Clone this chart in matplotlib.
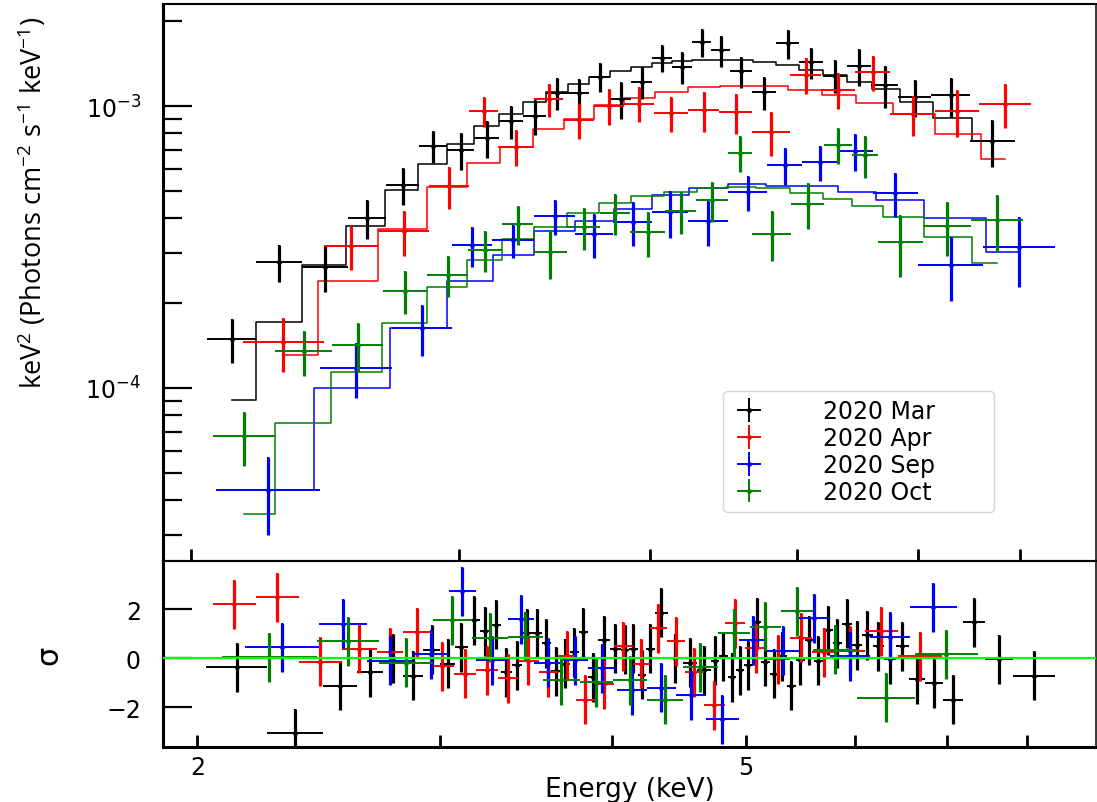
import numpy as np
import matplotlib
matplotlib.use("Agg")
import matplotlib.pyplot as plt
from matplotlib.ticker import FixedLocator, NullFormatter, NullLocator, FixedFormatter, LogLocator

plt.rcParams['mathtext.default'] = 'regular'

# ---------------- Top panel: unfolded spectra (bin edges in keV) ----------------
mar_edges = [2.049, 2.206, 2.365, 2.536, 2.685, 2.823, 2.945, 3.068, 3.185, 3.303, 3.420,
             3.535, 3.649, 3.767, 3.889, 4.014, 4.137, 4.264, 4.388, 4.516, 4.668, 4.841,
             5.012, 5.197, 5.389, 5.588, 5.820, 6.118, 6.489, 6.945]
mar_flux = [1.49e-4, 2.80e-4, 2.69e-4, 4.01e-4, 5.25e-4, 7.21e-4, 6.98e-4, 7.70e-4, 8.85e-4,
            9.22e-4, 1.11e-3, 1.11e-3, 1.27e-3, 1.06e-3, 1.22e-3, 1.48e-3, 1.38e-3, 1.69e-3,
            1.58e-3, 1.33e-3, 1.12e-3, 1.67e-3, 1.43e-3, 1.28e-3, 1.39e-3, 1.19e-3, 1.08e-3,
            1.09e-3, 7.51e-4]
mar_err = [2.65e-5, 4.2e-5, 5.0e-5, 6.2e-5, 7.9e-5, 9.4e-5, 1.05e-4, 1.16e-4, 1.19e-4, 1.31e-4,
           1.44e-4, 1.40e-4, 1.52e-4, 1.59e-4, 1.59e-4, 1.63e-4, 1.79e-4, 1.93e-4, 1.99e-4,
           1.68e-4, 1.50e-4, 1.97e-4, 1.80e-4, 1.72e-4, 2.09e-4, 2.02e-4, 1.62e-4, 1.72e-4, 1.43e-4]
mar_model = [9.07e-5, 1.71e-4, 2.73e-4, 3.75e-4, 5.04e-4, 6.23e-4, 7.33e-4, 8.49e-4, 9.37e-4,
             1.03e-3, 1.12e-3, 1.20e-3, 1.27e-3, 1.33e-3, 1.38e-3, 1.42e-3, 1.44e-3, 1.46e-3,
             1.46e-3, 1.46e-3, 1.43e-3, 1.40e-3, 1.34e-3, 1.29e-3, 1.22e-3, 1.15e-3, 1.03e-3,
             9.07e-4, 7.51e-4]

apr_edges = [2.163, 2.445, 2.653, 2.866, 3.044, 3.181, 3.359, 3.508, 3.677, 3.847, 4.026,
             4.238, 4.442, 4.668, 4.944, 5.181, 5.455, 5.750, 6.155, 6.578, 7.115]
apr_flux = [1.456e-4, 3.19e-4, 3.60e-4, 5.20e-4, 9.60e-4, 7.15e-4, 1.059e-3, 8.92e-4, 1.00e-3,
            1.02e-3, 9.45e-4, 9.68e-4, 9.52e-4, 8.09e-4, 1.29e-3, 1.14e-3, 1.32e-3, 9.37e-4,
            9.60e-4, 1.02e-3]
apr_err = [3.16e-5, 5.7e-5, 6.6e-5, 8.8e-5, 1.17e-4, 1.04e-4, 1.42e-4, 1.27e-4, 1.46e-4, 1.45e-4,
           1.34e-4, 1.57e-4, 1.54e-4, 1.44e-4, 1.88e-4, 1.66e-4, 1.87e-4, 1.52e-4, 1.82e-4, 1.82e-4]
apr_model = [1.31e-4, 2.40e-4, 3.66e-4, 5.16e-4, 6.28e-4, 7.15e-4, 8.29e-4, 8.99e-4, 1.008e-3,
             1.07e-3, 1.12e-3, 1.17e-3, 1.18e-3, 1.18e-3, 1.14e-3, 1.094e-3, 1.025e-3, 9.37e-4,
             7.96e-4, 6.49e-4]

sep_edges = [2.077, 2.431, 2.710, 2.966, 3.152, 3.359, 3.573, 3.784, 4.014, 4.238, 4.502,
             4.776, 5.034, 5.316, 5.604, 5.999, 6.618, 7.378]
sep_flux = [4.35e-5, 1.18e-4, 1.63e-4, 3.21e-4, 3.35e-4, 4.07e-4, 3.52e-4, 3.88e-4, 4.21e-4,
            3.91e-4, 4.95e-4, 6.18e-4, 6.33e-4, 6.93e-4, 4.91e-4, 2.73e-4, 3.16e-4]
sep_err = [1.34e-5, 2.6e-5, 3.34e-5, 5.2e-5, 4.5e-5, 5.9e-5, 6.3e-5, 6.9e-5, 8.0e-5, 7.1e-5,
           7.2e-5, 9.3e-5, 9.0e-5, 1.04e-4, 8.7e-5, 6.9e-5, 8.7e-5]
sep_model = [4.35e-5, 1.00e-4, 1.63e-4, 2.40e-4, 2.96e-4, 3.60e-4, 3.91e-4, 4.31e-4, 4.84e-4,
             5.12e-4, 5.29e-4, 5.20e-4, 5.20e-4, 4.95e-4, 4.64e-4, 4.01e-4, 3.04e-4]

oct_edges = [2.068, 2.271, 2.475, 2.673, 2.857, 3.039, 3.200, 3.354, 3.530, 3.710, 3.882,
             4.094, 4.290, 4.502, 4.668, 4.952, 5.204, 5.429, 5.647, 6.044, 6.499, 7.030]
oct_flux = [6.76e-5, 1.35e-4, 1.42e-4, 2.21e-4, 2.52e-4, 3.09e-4, 3.82e-4, 3.04e-4, 3.72e-4,
            4.18e-4, 3.57e-4, 4.24e-4, 4.64e-4, 6.81e-4, 3.52e-4, 4.49e-4, 7.27e-4, 6.70e-4,
            3.29e-4, 3.75e-4, 3.94e-4]
oct_err = [1.49e-5, 2.46e-5, 2.85e-5, 3.8e-5, 4.1e-5, 5.1e-5, 6.0e-5, 6.0e-5, 6.3e-5, 6.9e-5,
           6.5e-5, 7.3e-5, 7.5e-5, 9.9e-5, 7.1e-5, 8.4e-5, 1.06e-4, 1.14e-4, 8.2e-5, 8.1e-5, 8.9e-5]
oct_model = [3.57e-5, 7.51e-5, 1.14e-4, 1.70e-4, 2.28e-4, 2.84e-4, 3.38e-4, 3.72e-4, 4.18e-4,
             4.53e-4, 4.80e-4, 4.95e-4, 5.12e-4, 5.16e-4, 5.12e-4, 4.91e-4, 4.68e-4, 4.42e-4,
             4.04e-4, 3.43e-4, 2.78e-4]

# ---------------- Bottom panel: residuals (sigma), bin edges in keV ----------------
mar_res_edges = [2.030, 2.245, 2.465, 2.609, 2.725, 2.822, 2.918, 3.002, 3.074, 3.141, 3.205,
                 3.265, 3.320, 3.381, 3.438, 3.496, 3.555, 3.609, 3.670, 3.726, 3.782, 3.839,
                 3.904, 3.983, 4.058, 4.112, 4.175, 4.231, 4.295, 4.389, 4.501, 4.607, 4.717,
                 4.780, 4.853, 4.918, 4.984, 5.059, 5.127, 5.205, 5.275, 5.355, 5.436, 5.519,
                 5.602, 5.688, 5.783, 5.871, 5.970, 6.071, 6.184, 6.299, 6.426, 6.567, 6.746,
                 6.951, 7.188, 7.457, 7.815, 8.385]
mar_res = [-0.37, -3.06, -1.14, -0.57, 0.0, -0.73, 0.33, -0.24, 0.45, 1.55, 1.1, 1.35, -0.57,
           -0.29, 1.02, 1.02, 0.61, -0.53, -0.24, 0.24, 1.06, -0.78, 0.73, 0.37, 0.33, 0.37,
           -0.69, 0.37, 1.84, 0.0, -0.2, -0.49, -0.12, 0.08, -0.78, -0.49, -0.29, 1.47, -0.16,
           -0.65, 0.08, -1.14, -0.08, 0.73, -0.12, 1.14, 0.61, 1.39, 0.53, 0.94, 0.49, -0.04,
           0.49, -0.86, -1.02, -1.71, 1.47, -0.04, -0.73]

apr_res_edges = [2.051, 2.207, 2.368, 2.545, 2.698, 2.822, 2.948, 3.069, 3.184, 3.303, 3.415,
                 3.537, 3.651, 3.763, 3.885, 4.010, 4.139, 4.259, 4.382, 4.516, 4.661, 4.829,
                 4.992, 5.179, 5.382, 5.584, 5.812, 6.101, 6.447, 6.940]
apr_res = [2.2, 2.49, -0.16, 0.37, 0.24, 1.06, -0.33, -0.65, -0.49, -0.82, -0.12, -0.57, 0.1,
           -1.71, -1.06, 0.49, -0.24, 1.22, 0.69, -0.57, -1.92, 1.43, 0.41, -0.04, 0.82, 0.24,
           0.29, 1.1, 0.08]

sep_res_edges = [2.167, 2.449, 2.653, 2.865, 3.043, 3.184, 3.359, 3.508, 3.676, 3.839, 4.030,
                 4.238, 4.448, 4.677, 4.943, 5.179, 5.464, 5.754, 6.153, 6.578, 7.116]
sep_res = [0.45, 1.39, -0.12, 0.16, 2.73, -0.08, 1.59, -0.2, -0.08, -0.41, -1.31, -1.22, -1.51,
           -2.49, 0.73, 0.29, 1.63, 0.08, 0.86, 2.08]

oct_res_edges = [2.082, 2.441, 2.711, 2.967, 3.162, 3.359, 3.561, 3.788, 4.003, 4.238, 4.501,
                 4.772, 5.034, 5.302, 5.593, 6.020, 6.633, 7.370]
oct_res = [0.04, 0.69, -0.2, 1.55, 0.82, 0.86, -0.9, -0.98, -0.9, -1.71, -0.37, 1.02, 1.27,
           1.92, 0.33, -1.63, 0.16]

res_sigma = 1.0

labels = ["2020 Mar", "2020 Apr", "2020 Sep", "2020 Oct"]
colors = ["black", "#ff0000", "#0000ff", "#008000"]

# ---------------- Figure ----------------
fig = plt.figure(figsize=(10.97, 8.03), dpi=100)
ax1 = fig.add_axes([0.1486, 0.3001, 0.8505, 0.6936])
ax2 = fig.add_axes([0.1486, 0.0685, 0.8505, 0.2316])


def centers(edges):
    e = np.asarray(edges)
    c = np.sqrt(e[:-1] * e[1:])
    return c, [c - e[:-1], e[1:] - c]


top_sets = [(mar_edges, mar_flux, mar_err, mar_model),
            (apr_edges, apr_flux, apr_err, apr_model),
            (sep_edges, sep_flux, sep_err, sep_model),
            (oct_edges, oct_flux, oct_err, oct_model)]
handles = []
for i, (ed, fl, er, mo) in enumerate(top_sets):
    c, xe = centers(ed)
    col = colors[i]
    ax1.step(c, mo, where='mid', color=col, lw=1.1, zorder=2 + i)
    h = ax1.errorbar(c, fl, xerr=xe, yerr=er, fmt='o', ms=2.5, color=col,
                     elinewidth=1.4, capsize=0, zorder=6 + i, label=labels[i])
    ax1.errorbar(c, fl, yerr=er, fmt='none', ecolor=col, elinewidth=2.3,
                 capsize=0, zorder=6 + i)
    handles.append(h)

res_sets = [(mar_res_edges, mar_res), (apr_res_edges, apr_res),
            (sep_res_edges, sep_res), (oct_res_edges, oct_res)]
for i, (ed, rs) in enumerate(res_sets):
    c, xe = centers(ed)
    col = colors[i]
    ax2.errorbar(c, rs, xerr=xe, yerr=res_sigma, fmt='o', ms=2.5, color=col,
                 elinewidth=1.4, capsize=0, zorder=3 + i)
    ax2.errorbar(c, rs, yerr=res_sigma, fmt='none', ecolor=col, elinewidth=2.3,
                 capsize=0, zorder=3 + i)
ax2.axhline(0, color='#00ff00', lw=1.6, zorder=10)

# ---------------- Axes styling ----------------
ax1.set_xscale('log')
ax1.set_xlim(1.917, 7.85)
ax1.set_yscale('log')
ax1.set_ylim(2.434e-5, 2.30e-3)
ax1.xaxis.set_major_locator(FixedLocator([2, 3, 4, 5, 6, 7]))
ax1.xaxis.set_minor_locator(NullLocator())
ax1.xaxis.set_major_formatter(NullFormatter())
ax1.yaxis.set_major_locator(LogLocator(base=10, numticks=10))
ax1.yaxis.set_minor_locator(LogLocator(base=10, subs=np.arange(2, 10), numticks=20))
ax1.yaxis.set_minor_formatter(NullFormatter())
ax1.tick_params(axis='x', which='major', direction='in', length=9, width=2.0,
                bottom=True, top=False)
ax1.tick_params(axis='y', which='major', direction='in', length=21, width=1.6,
                labelsize=17, pad=16, left=True, right=False)
ax1.tick_params(axis='y', which='minor', direction='in', length=14, width=1.6,
                left=True, right=False)

ax2.set_xscale('log')
ax2.set_xlim(1.888, 8.98)
ax2.set_ylim(-3.63, 3.96)
ax2.xaxis.set_major_locator(FixedLocator([2, 5]))
ax2.xaxis.set_major_formatter(FixedFormatter(['2', '5']))
ax2.xaxis.set_minor_locator(FixedLocator([3, 4, 6, 7, 8]))
ax2.xaxis.set_minor_formatter(NullFormatter())
ax2.yaxis.set_major_locator(FixedLocator([-2, 0, 2]))
ax2.tick_params(axis='x', which='both', direction='in', length=9, width=2.0,
                labelsize=17, pad=6, bottom=True, top=False)
ax2.tick_params(axis='y', which='major', direction='in', length=21, width=1.6,
                labelsize=17, pad=16, left=True, right=False)

for ax in (ax1, ax2):
    ax.spines['left'].set_linewidth(2.2)
    ax.spines['right'].set_linewidth(1.1)
    ax.spines['top'].set_linewidth(1.5)
    ax.spines['bottom'].set_linewidth(1.5)
ax2.spines['bottom'].set_linewidth(2.2)

ax1.legend(handles=handles, labels=labels, loc='upper left',
           bbox_to_anchor=(0.600, 0.100, 0.291, 0.205), mode='expand',
           borderaxespad=0, fontsize=17, handlelength=1.5, handletextpad=2.4,
           labelspacing=0.12, borderpad=0.35, frameon=True, fancybox=True)

fig.text(0.0301, 0.7472, r"keV$^2$ (Photons cm$^{-2}$ s$^{-1}$ keV$^{-1}$)",
         rotation=90, ha='center', va='center', fontsize=19.5,
         family=['Open Sans', 'DejaVu Sans'])
fig.text(0.0456, 0.1818, r"$\sigma$", rotation=90, ha='center', va='center', fontsize=22,
         math_fontfamily='dejavusans')
fig.text(0.5743, 0.0162, "Energy (keV)", ha='center', va='center', fontsize=19)

fig.savefig("out.png", dpi=100)
